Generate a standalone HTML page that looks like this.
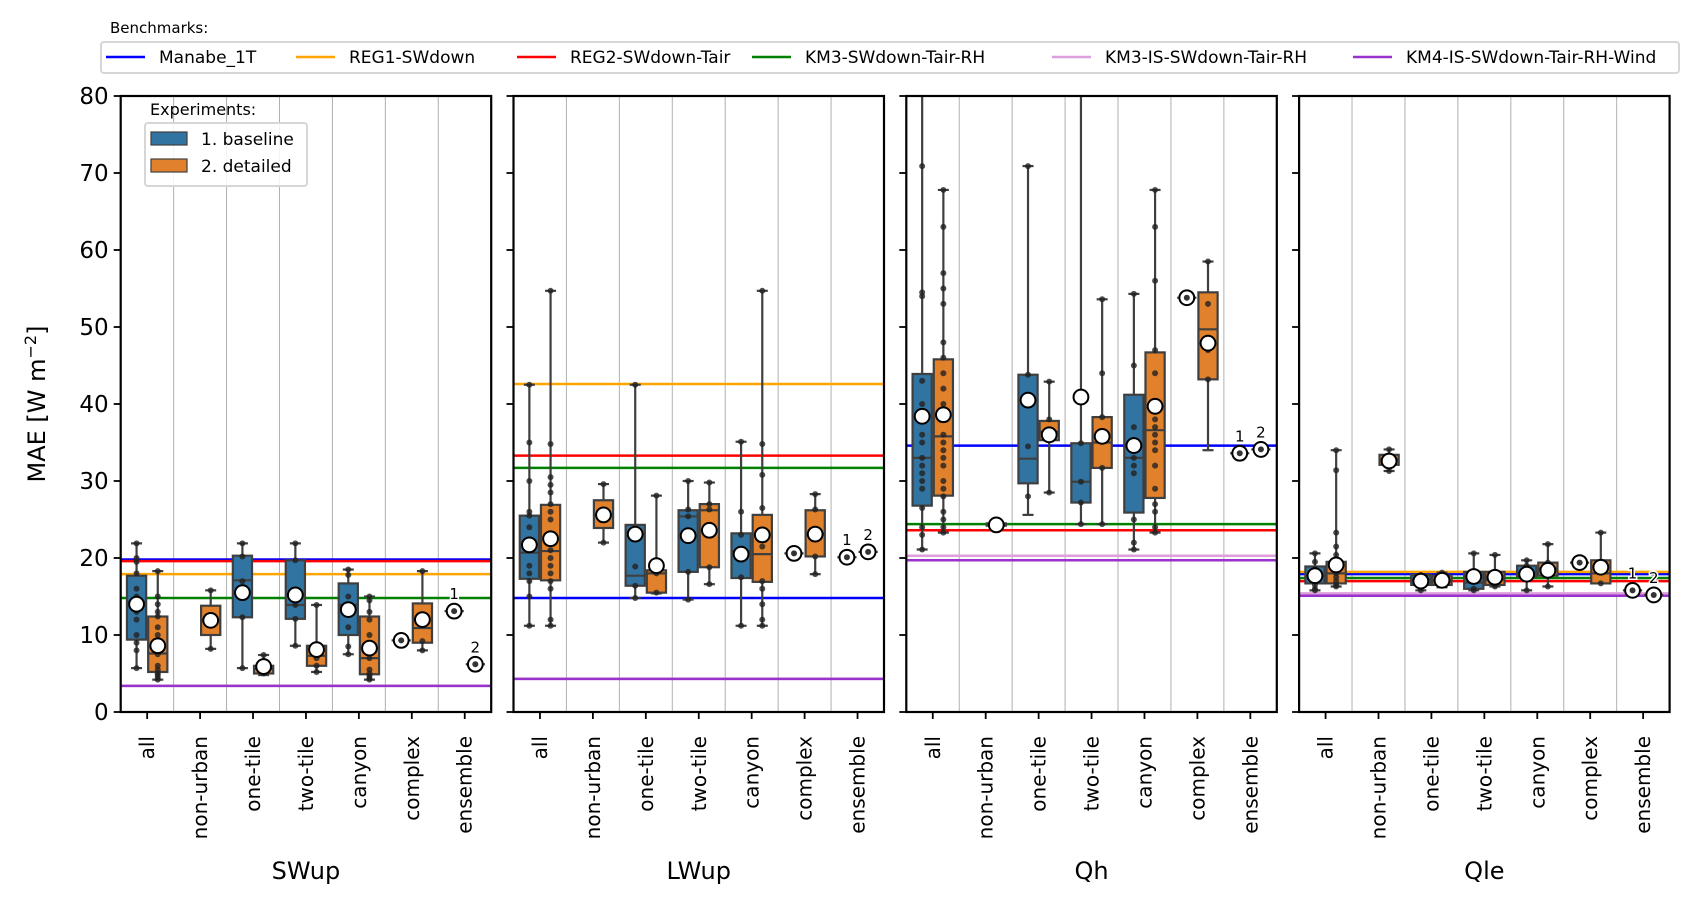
<!DOCTYPE html>
<html><head><meta charset="utf-8">
<style>
html,body{margin:0;padding:0;background:#fff;}
svg{display:block;font-family:"DejaVu Sans","Liberation Sans",sans-serif;}
</style></head>
<body>
<svg id="chart" width="1699" height="905" viewBox="0 0 1699 905" xmlns="http://www.w3.org/2000/svg"></svg>
<script>
const panelNames = ["SWup","LWup","Qh","Qle"];
const categories = ["all","non-urban","one-tile","two-tile","canyon","complex","ensemble"];
const yTicks = [0,10,20,30,40,50,60,70,80];
const benchNames = ["Manabe_1T","REG1-SWdown","REG2-SWdown-Tair","KM3-SWdown-Tair-RH","KM3-IS-SWdown-Tair-RH","KM4-IS-SWdown-Tair-RH-Wind"];
const benchSWup = [19.8,17.9,19.6,14.8,3.4,3.4];
const benchLWup = [14.8,42.6,33.3,31.7,4.3,4.3];
const benchQh = [34.6,90,23.6,24.4,20.3,19.7];
const benchQle = [17.9,18.2,17.0,17.4,15.4,15.1];
// stats: [whiskerLow, q1, median, q3, whiskerHigh] per category (null = missing)
const baseSWup = [[5.7,9.4,14.3,17.7,21.9],null,[5.7,12.3,17.1,20.3,21.9],[8.6,12.1,13.9,19.7,21.9],[7.5,10,13.9,16.7,18.5],[9.3,9.3,9.3,9.3,9.3],[13.1,13.1,13.1,13.1,13.1]];
const baseSWupMean = [14.0,null,15.5,15.2,13.3,9.3,13.1];
const detSWup = [[4.2,5.2,7.6,12.4,18.3],[8.2,10,11.9,13.8,15.8],[4.8,5.0,5.6,6.0,7.4],[5.2,6.0,7.3,8.6,13.9],[4.2,4.9,7.0,12.4,15.0],[8.0,9.0,10.9,14.1,18.3],[6.2,6.2,6.2,6.2,6.2]];
const detSWupMean = [8.6,11.9,5.9,8.1,8.3,12.0,6.2];
const baseLWup = [[11.2,17.3,20.7,25.5,42.5],null,[14.8,16.4,17.7,24.3,42.5],[14.6,18.2,25.4,26.2,30.0],[11.2,17.4,20.9,23.2,35.1],[20.6,20.6,20.6,20.6,20.6],[20.1,20.1,20.1,20.1,20.1]];
const baseLWupMean = [21.7,null,23.1,22.9,20.5,20.6,20.1];
const detLWup = [[11.2,17.1,20.9,26.9,54.7],[22.0,23.9,25.6,27.5,29.6],[15.4,15.5,18.0,18.4,28.1],[16.6,18.8,26.2,27.0,29.8],[11.2,16.9,20.5,25.6,54.7],[17.9,20.2,23.1,26.2,28.3],[20.8,20.8,20.8,20.8,20.8]];
const detLWupMean = [22.5,25.6,19.0,23.6,23.0,23.1,20.8];
const baseQh = [[21.1,26.8,33.0,43.9,95],null,[25.6,29.7,32.9,43.8,70.9],[24.4,27.2,29.9,34.9,95],[21.1,25.9,33.0,41.2,54.3],[53.8,53.8,53.8,53.8,53.8],[33.6,33.6,33.6,33.6,33.6]];
const baseQhMean = [38.4,null,40.5,40.9,34.6,53.8,33.6];
const detQh = [[23.3,28.1,35.8,45.8,67.8],[24.0,24.2,24.3,24.5,24.7],[28.5,35.3,36.4,37.8,42.9],[24.4,31.7,35.0,38.3,53.6],[23.3,27.8,36.6,46.7,67.8],[34.0,43.2,49.7,54.5,58.5],[34.1,34.1,34.1,34.1,34.1]];
const detQhMean = [38.6,24.3,36.0,35.8,39.7,47.9,34.1];
const baseQle = [[15.8,16.7,17.7,18.9,20.6],null,[15.8,16.5,17.2,17.8,17.8],[15.8,16.0,16.8,18.2,20.6],[15.8,17.6,18.0,19.0,19.7],[19.4,19.4,19.4,19.4,19.4],[15.8,15.8,15.8,15.8,15.8]];
const baseQleMean = [17.7,null,17.0,17.6,17.9,19.4,15.8];
const detQle = [[16.3,16.7,18.0,19.5,34.0],[31.3,32.1,32.8,33.4,34.1],[16.2,16.5,17.0,17.7,18.1],[16.3,16.5,17.2,18.2,20.4],[16.3,17.7,18.6,19.4,21.8],[16.7,16.7,18.0,19.7,23.3],[15.2,15.2,15.2,15.2,15.2]];
const detQleMean = [19.1,32.6,17.1,17.5,18.4,18.8,15.2];
// individual model points
const ptsBaseSWup = [[21.9,20,19.5,18,16,15,13,12,10,9,8,5.7],[],[21.9,20.2,17,12.3,5.7],[21.9,19.7,13.9,12.1,8.6],[18.5,17.8,15,13.9,11,8.5,7.5],[9.3],[13.1]];
const ptsDetSWup = [[18.3,15,14,13,12.4,11,10,9,8,7.5,6,5.5,5,4.8,4.5,4.2],[15.8,11.9,8.2],[7.4,6,5.6,5],[13.9,8.5,7,6,5.2],[15,14.5,13,12,10,8,7,5.5,5,4.7,4.4,4.2],[18.3,12.6,9.2,8],[6.2]];
const ptsBaseLWup = [[42.5,35,30,26,25.5,24,22,21,19,18,17,15,11.2],[],[42.5,18.9,16.4,14.8],[30,26.3,25.4,18.2,14.6],[35.1,26,23,21,17.5,11.2],[20.6],[20.1]];
const ptsDetLWup = [[54.7,34.8,30.5,29.5,28.5,27,26,25,23,22,21,20,19,18,17,16,12,11.2],[29.6,25.6,22],[28.1,18.4,18,15.5],[29.8,27,26.3,18.8,16.6],[54.7,34.8,30.8,26.5,23,21.5,17,16,14,12,11.2],[28.3,26.3,23.1,20.2,17.9],[20.8]];
const ptsBaseQh = [[70.9,54.5,54,43,40,38,36,35,33,32,31,30,29,26.5,24,23,21.1],[],[70.9,43.8,34.5,28],[34.9,29.9,27.2,24.4],[54.3,45,37,34,33,32,31,25,22,21.1],[53.8],[33.6]];
const ptsDetQh = [[67.8,63,57,55,53,48,46,44,42,40,38,36,35,34,33,32,30,29,28,26,25,24,23.3],[24.3],[42.9,38,36,35.5,28.5],[53.6,44,38.3,31.7,24.4],[67.8,63,56,47,44,40,38,37,36,35,34,32,29,27,26,24,23.3],[58.5,53,47,43.2],[34.1]];
const ptsBaseQle = [[20.6,19.5,18.5,18,17.5,17,16.5,16,15.8],[],[17.8,17.2,16.5,15.8],[20.6,18.2,17,16,15.8],[19.7,19,18,17.6,15.8],[19.4],[15.8]];
const ptsDetQle = [[34,31.4,23.3,21.5,20.4,19.5,19,18.5,18,17.5,17,16.5,16.3],[34.1,32.8,31.3],[18.1,17.5,17,16.5],[20.4,18.2,17.2,16.5,16.3],[21.8,19.4,18.6,17.7,16.3],[23.3,18.8,16.7],[15.2]];

const benchData = [benchSWup,benchLWup,benchQh,benchQle];
const baseData = [baseSWup,baseLWup,baseQh,baseQle];
const baseMeans = [baseSWupMean,baseLWupMean,baseQhMean,baseQleMean];
const detData = [detSWup,detLWup,detQh,detQle];
const detMeans = [detSWupMean,detLWupMean,detQhMean,detQleMean];
const basePts = [ptsBaseSWup,ptsBaseLWup,ptsBaseQh,ptsBaseQle];
const detPts = [ptsDetSWup,ptsDetLWup,ptsDetQh,ptsDetQle];

const benchColors = ["#0000ff","#ffa500","#ff0000","#008000","#dda0dd","#9932cc"];
const expColors = ["#3274a1","#e1812c"];
const NS = "http://www.w3.org/2000/svg";
const svg = document.getElementById("chart");
const P_LEFT0 = 120.7, P_STEP = 392.8, P_W = 370.5, Y_TOP = 96, Y_BOT = 712;
const MR = 7.4;
function yScale(v){ return Y_BOT - (v/80)*(Y_BOT-Y_TOP); }
function catX(p,k){ return P_LEFT0 + p*P_STEP + (k+0.5)*P_W/7; }
function mk(tag, attrs, parent){
  const e = document.createElementNS(NS, tag);
  for (const k in attrs) e.setAttribute(k, attrs[k]);
  (parent||svg).appendChild(e);
  return e;
}
const defs = mk("defs",{});
panelNames.forEach((nm,p)=>{
  const cp = mk("clipPath",{id:"clip"+p},defs);
  mk("rect",{x:P_LEFT0+p*P_STEP,y:Y_TOP,width:P_W,height:Y_BOT-Y_TOP},cp);
});

// Benchmarks legend
const bl = mk("g",{});


const blt = mk("text",{x:110,y:33,"font-size":15,fill:"#000"},bl);
blt.textContent = "Benchmarks:";
mk("rect",{x:101,y:42,width:1578,height:31,rx:3,fill:"#fff",stroke:"#d6d6d6","stroke-width":2},bl);
const benchTextX = [159,349,570,805,1105,1406];
benchNames.forEach((n,i)=>{
  const g = mk("g",{},bl);
  
  
  mk("line",{x1:benchTextX[i]-53,x2:benchTextX[i]-14,y1:57,y2:57,stroke:benchColors[i],"stroke-width":2.5},g);
  const t = mk("text",{x:benchTextX[i],y:63,"font-size":17,fill:"#000"},g);
  t.textContent = n;
});

// y-axis label
const yl = mk("text",{x:0,y:0,"font-size":24,"text-anchor":"middle",transform:"translate(45,404) rotate(-90)"});


yl.innerHTML = 'MAE [W m<tspan dy="-9" font-size="16">−2</tspan><tspan dy="9">]</tspan>';

panelNames.forEach((nm,p)=>{
  const L = P_LEFT0 + p*P_STEP;
  const g = mk("g",{});
  
  
  for (let k=1;k<7;k++){
    const gl = mk("line",{x1:L+k*P_W/7,x2:L+k*P_W/7,y1:Y_TOP,y2:Y_BOT,stroke:"#b0b0b0","stroke-width":1},g);
    
    
  }
  const cg = mk("g",{"clip-path":"url(#clip"+p+")"},g);
  benchData[p].forEach((v,i)=>{
    const ln = mk("line",{x1:L,x2:L+P_W,y1:yScale(v),y2:yScale(v),stroke:benchColors[i],"stroke-width":2.5},cg);
    
    
  });
  const bw = 21.2;
  [baseData[p],detData[p]].forEach((stats,e)=>{
    const means = e===0?baseMeans[p]:detMeans[p];
    const pts = e===0?basePts[p]:detPts[p];
    stats.forEach((s,k)=>{
      if(!s) return;
      const cx = catX(p,k) + (e===0?-bw/2:bw/2);
      const bg = mk("g",{},cg);
      
      
      const st = {stroke:"#3f3f3f","stroke-width":2.2};
      mk("line",Object.assign({x1:cx,x2:cx,y1:yScale(s[4]),y2:yScale(s[3])},st),bg);
      mk("line",Object.assign({x1:cx,x2:cx,y1:yScale(s[1]),y2:yScale(s[0])},st),bg);
      mk("line",Object.assign({x1:cx-5.5,x2:cx+5.5,y1:yScale(s[4]),y2:yScale(s[4])},st),bg);
      mk("line",Object.assign({x1:cx-5.5,x2:cx+5.5,y1:yScale(s[0]),y2:yScale(s[0])},st),bg);
      const h = yScale(s[1])-yScale(s[3]);
      if (h>1) mk("rect",Object.assign({x:cx-bw/2+1,y:yScale(s[3]),width:bw-2,height:h,fill:expColors[e]},st),bg);
      mk("line",Object.assign({x1:cx-bw/2+1,x2:cx+bw/2-1,y1:yScale(s[2]),y2:yScale(s[2])},st),bg);
      pts[k].forEach(v=>{
        const c = mk("circle",{cx:cx,cy:yScale(v),r:3,fill:"#222","fill-opacity":0.8},bg);
        
        
      });
      if (means[k]!=null){
        const m = mk("circle",{cx:cx,cy:yScale(means[k]),r:MR,fill:"#fff",stroke:"#000","stroke-width":2},bg);
        
        
        if(k===5&&e===0||k===6){
          const md = mk("circle",{cx:cx,cy:yScale(means[k]),r:3,fill:"#333"},bg);
          
          
        }
      }
      if (k===6){
        const at = mk("text",{x:cx,y:yScale(means[k])-12,"font-size":15,"text-anchor":"middle",fill:"#000",stroke:"#fff","stroke-width":3,"paint-order":"stroke"},g);
        
        
        at.textContent = String(e+1);
      }
    });
  });
  const fr = mk("rect",{x:L,y:Y_TOP,width:P_W,height:Y_BOT-Y_TOP,fill:"none",stroke:"#000","stroke-width":2.2},g);
  
  
  yTicks.forEach(v=>{
    mk("line",{x1:L-7,x2:L,y1:yScale(v),y2:yScale(v),stroke:"#000","stroke-width":1.8},g);
    if(p===0){
      const t = mk("text",{x:L-12,y:yScale(v)+8,"font-size":23,"text-anchor":"end",fill:"#000"},g);
      
      
      t.textContent = v;
    }
  });
  categories.forEach((c,k)=>{
    const x = catX(p,k);
    mk("line",{x1:x,x2:x,y1:Y_BOT,y2:Y_BOT+7,stroke:"#000","stroke-width":1.8},g);
    const t = mk("text",{x:0,y:0,"font-size":20,"text-anchor":"end",transform:"translate("+(x+7)+",736) rotate(-90)",fill:"#000"},g);
    
    
    t.textContent = c;
  });
  const tt = mk("text",{x:L+P_W/2,y:879,"font-size":24,"text-anchor":"middle",fill:"#000"},g);
  
  
  tt.textContent = nm;
});

// Experiments legend
const el = mk("g",{});


const elt = mk("text",{x:150,y:115,"font-size":16,fill:"#000"},el);
elt.textContent = "Experiments:";
mk("rect",{x:145,y:123,width:162,height:63,rx:3,fill:"#fff","fill-opacity":0.85,stroke:"#d6d6d6","stroke-width":2},el);
["1. baseline","2. detailed"].forEach((n,i)=>{
  const g = mk("g",{},el);
  
  
  mk("rect",{x:151,y:132+i*27,width:36,height:13,fill:expColors[i],stroke:"#3f3f3f","stroke-width":1.2},g);
  const t = mk("text",{x:201,y:145+i*27,"font-size":17,fill:"#000"},g);
  t.textContent = n;
});
</script>
</body></html>
